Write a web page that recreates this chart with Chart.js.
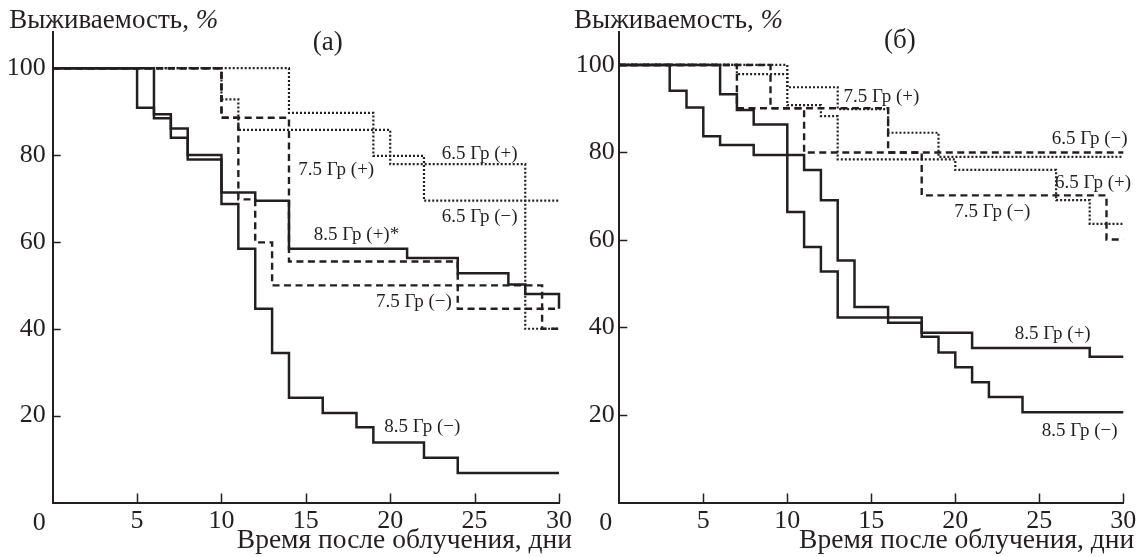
<!DOCTYPE html>
<html lang="ru">
<head>
<meta charset="utf-8">
<title>Выживаемость после облучения</title>
<script src="https://cdn.jsdelivr.net/npm/chart.js@4.4.1/dist/chart.umd.min.js"></script>
<style>
  html, body { margin: 0; padding: 0; background: #fff; }
  body { width: 1141px; height: 557px; position: relative; overflow: hidden; }
  .panel { position: absolute; top: 0; height: 557px; }
  #panel-a { left: 0; width: 580px; }
  #panel-b { left: 560px; width: 581px; }
</style>
</head>
<body>
<div class="panel" id="panel-a"><canvas id="chart-a"></canvas></div>
<div class="panel" id="panel-b"><canvas id="chart-b"></canvas></div>
<script>
const INK = "#231f20";
const SERIF = '"Liberation Serif", "Times New Roman", serif';

// Axis ticks
const xTicks = [0, 5, 10, 15, 20, 25, 30];
const yTicks = [20, 40, 60, 80, 100];

// Panel (а): day of step, survival (%) from that day on
const a85mDays = [0, 5, 6, 7, 8, 10, 11, 12, 13, 14, 16, 18, 19, 22, 24, 30];
const a85mSurv = [100, 90.9, 88.5, 84.0, 79.0, 68.7, 58.4, 44.6, 34.4, 24.1, 20.6, 17.3, 13.8, 10.3, 6.8, 6.8];
const a85pDays = [0, 6, 7, 8, 10, 12, 14, 21, 24, 27, 28, 30, 30];
const a85pSurv = [100, 89.4, 86.1, 80.0, 71.4, 69.5, 58.4, 56.3, 52.8, 50.2, 48.0, 48.0, 44.6];
const a75pDays = [0, 10, 14, 24, 30];
const a75pSurv = [100, 88.6, 55.5, 44.6, 44.6];
const a75mDays = [0, 10, 11, 12, 13, 29, 30];
const a75mSurv = [100, 88.6, 69.8, 59.9, 50.0, 40.0, 40.0];
const a65pDays = [0, 10, 11, 20, 28, 30];
const a65pSurv = [100, 92.8, 85.8, 77.9, 40.0, 40.0];
const a65mDays = [0, 14, 19, 22, 30];
const a65mSurv = [100, 89.7, 79.8, 69.5, 69.5];

// Panel (б)
const b85mDays = [0, 3, 4, 5, 6, 8, 11, 12, 13, 14, 16, 18, 19, 20, 21, 22, 24, 30];
const b85mSurv = [100, 94.1, 90.3, 83.7, 81.7, 79.4, 76.0, 69.1, 55.3, 44.7, 41.1, 37.9, 34.3, 30.9, 27.5, 24.1, 20.6, 20.6];
const b85pDays = [0, 6, 7, 8, 10, 11, 12, 13, 18, 21, 28, 30];
const b85pSurv = [100, 93.3, 89.7, 86.4, 66.4, 58.4, 52.8, 42.3, 38.8, 35.3, 33.3, 33.3];
const b75pDays = [0, 10, 13, 16, 19, 30];
const b75pSurv = [100, 94.9, 89.9, 84.5, 79.0, 79.0];
const b75mDays = [0, 9, 16, 18, 29, 30];
const b75mSurv = [100, 90.1, 80.0, 70.2, 60.1, 60.1];
const b65pDays = [0, 7, 10, 12, 13, 20, 26, 28, 30];
const b65pSurv = [100, 97.9, 90.8, 88.3, 78.4, 76.0, 69.1, 63.7, 63.7];
const b65mDays = [0, 7, 11, 30];
const b65mSurv = [100, 90.1, 80.0, 80.0];

const yTitle = "Выживаемость, ";
const xTitle = "Время после облучения, дни";

// line styles
const SOLID = { dash: [], width: 2.5 };
const DASH = { dash: [7, 4.5], width: 2.4 };
const DOT = { dash: [2, 2], width: 2.2 };

const TICK_FONT = 26;

function km(days, surv) {
  return days.map((d, i) => ({ x: d, y: surv[i] }));
}

// inward ticks, titles, curve labels and the shared "0"
const decorPlugin = {
  id: "decor",
  afterDraw(chart, args, opts) {
    const { ctx, chartArea: area } = chart;
    const xs = chart.scales.x;
    const ys = chart.scales.y;
    ctx.save();
    ctx.strokeStyle = INK;
    ctx.fillStyle = INK;
    ctx.lineWidth = 1.5;

    xTicks.forEach((v) => {
      if (v === 0) return;
      const px = Math.round(xs.getPixelForValue(v)) + 0.5;
      ctx.beginPath();
      ctx.moveTo(px, area.bottom);
      ctx.lineTo(px, area.bottom - 9);
      ctx.stroke();
    });
    yTicks.forEach((v) => {
      const py = Math.round(ys.getPixelForValue(v)) + 0.5;
      ctx.beginPath();
      ctx.moveTo(area.left, py);
      ctx.lineTo(area.left + 8, py);
      ctx.stroke();
    });

    // "0" at the corner
    ctx.font = TICK_FONT + "px " + SERIF;
    ctx.textAlign = "center";
    ctx.textBaseline = "alphabetic";
    ctx.fillText("0", xs.getPixelForValue(0) - 13.5, 530);

    // axis titles
    ctx.font = "27px " + SERIF;
    ctx.textAlign = "left";
    ctx.fillText(yTitle, area.left + opts.yTitleDx, 28);
    const w = ctx.measureText(yTitle).width;
    ctx.font = "italic 27px " + SERIF;
    ctx.fillText("%", area.left + opts.yTitleDx + w, 28);

    ctx.font = "27.5px " + SERIF;
    ctx.textAlign = "right";
    ctx.fillText(xTitle, area.right + opts.xTitleDx, 548);

    // panel letter
    ctx.font = "27px " + SERIF;
    ctx.textAlign = "center";
    ctx.textBaseline = "middle";
    ctx.fillText(opts.letter.text, xs.getPixelForValue(opts.letter.at[0]), ys.getPixelForValue(opts.letter.at[1]));

    // curve labels
    ctx.font = "19px " + SERIF;
    opts.notes.forEach((n) => {
      ctx.fillText(n.text, xs.getPixelForValue(n.at[0]), ys.getPixelForValue(n.at[1]));
    });
    ctx.restore();
  },
};

function makePanel(canvasId, panel) {
  return new Chart(document.getElementById(canvasId), {
    type: "line",
    data: {
      datasets: panel.series.map((s) => ({
        label: s.name,
        data: km(s.days, s.surv),
        stepped: true,
        borderColor: INK,
        borderWidth: s.style.width,
        borderDash: s.style.dash,
        borderCapStyle: "butt",
        pointRadius: 0,
        fill: false,
        clip: 4,
      })),
    },
    options: {
      responsive: true,
      maintainAspectRatio: false,
      animation: false,
      events: [],
      layout: { padding: { left: 0, bottom: 0, top: 31.7, right: panel.padRight } },
      plugins: {
        legend: { display: false },
        tooltip: { enabled: false },
        decor: panel.decor,
      },
      scales: {
        x: {
          type: "linear",
          min: 0,
          max: 30,
          afterBuildTicks: (scale) => {
            scale.ticks = xTicks.map((v) => ({ value: v }));
          },
          afterFit: (scale) => {
            scale.height = 54.5;
          },
          grid: { display: false, drawTicks: false, tickLength: 0 },
          border: { display: true, color: INK, width: 2 },
          ticks: {
            color: INK,
            padding: 3.5,
            maxRotation: 0,
            autoSkip: false,
            font: { family: SERIF, size: TICK_FONT },
            callback: (v) => (v === 0 ? "" : String(v)),
          },
        },
        y: {
          type: "linear",
          min: 0,
          max: panel.yMax,
          afterBuildTicks: (scale) => {
            scale.ticks = yTicks.map((v) => ({ value: v }));
          },
          afterFit: (scale) => {
            scale.width = panel.axisLeft;
          },
          grid: { display: false, drawTicks: false, tickLength: 0 },
          border: { display: true, color: INK, width: 2 },
          ticks: {
            color: INK,
            padding: panel.yPad,
            font: { family: SERIF, size: TICK_FONT },
          },
        },
      },
    },
    plugins: [decorPlugin],
  });
}

makePanel("chart-a", {
  yMax: 108.4,
  yPad: 7,
  axisLeft: 52.7,
  padRight: 21,
  series: [
    { name: "8.5 Гр (−)", days: a85mDays, surv: a85mSurv, style: SOLID },
    { name: "8.5 Гр (+)*", days: a85pDays, surv: a85pSurv, style: SOLID },
    { name: "7.5 Гр (+)", days: a75pDays, surv: a75pSurv, style: DASH },
    { name: "7.5 Гр (−)", days: a75mDays, surv: a75mSurv, style: DASH },
    { name: "6.5 Гр (+)", days: a65pDays, surv: a65pSurv, style: DOT },
    { name: "6.5 Гр (−)", days: a65mDays, surv: a65mSurv, style: DOT },
  ],
  decor: {
    yTitleDx: -43.5,
    xTitleDx: 13,
    letter: { text: "(а)", at: [16.3, 105.8] },
    notes: [
      { text: "6.5 Гр (+)", at: [25.3, 80.3] },
      { text: "6.5 Гр (−)", at: [25.3, 65.8] },
      { text: "7.5 Гр (+)", at: [16.8, 76.6] },
      { text: "8.5 Гр (+)*", at: [18.0, 61.6] },
      { text: "7.5 Гр (−)", at: [21.4, 46.2] },
      { text: "8.5 Гр (−)", at: [21.9, 17.4] },
    ],
  },
});

makePanel("chart-b", {
  yMax: 107.6,
  yPad: 4.5,
  axisLeft: 59.3,
  padRight: 17.7,
  series: [
    { name: "8.5 Гр (−)", days: b85mDays, surv: b85mSurv, style: SOLID },
    { name: "8.5 Гр (+)", days: b85pDays, surv: b85pSurv, style: SOLID },
    { name: "7.5 Гр (+)", days: b75pDays, surv: b75pSurv, style: DOT },
    { name: "7.5 Гр (−)", days: b75mDays, surv: b75mSurv, style: DASH },
    { name: "6.5 Гр (+)", days: b65pDays, surv: b65pSurv, style: DOT },
    { name: "6.5 Гр (−)", days: b65mDays, surv: b65mSurv, style: DASH },
  ],
  decor: {
    yTitleDx: -45.3,
    xTitleDx: 11,
    letter: { text: "(б)", at: [16.7, 105.5] },
    notes: [
      { text: "7.5 Гр (+)", at: [15.6, 92.7] },
      { text: "6.5 Гр (−)", at: [28.0, 83.1] },
      { text: "6.5 Гр (+)", at: [28.2, 73.1] },
      { text: "7.5 Гр (−)", at: [22.2, 66.3] },
      { text: "8.5 Гр (+)", at: [25.8, 38.4] },
      { text: "8.5 Гр (−)", at: [27.4, 16.3] },
    ],
  },
});
</script>
</body>
</html>
